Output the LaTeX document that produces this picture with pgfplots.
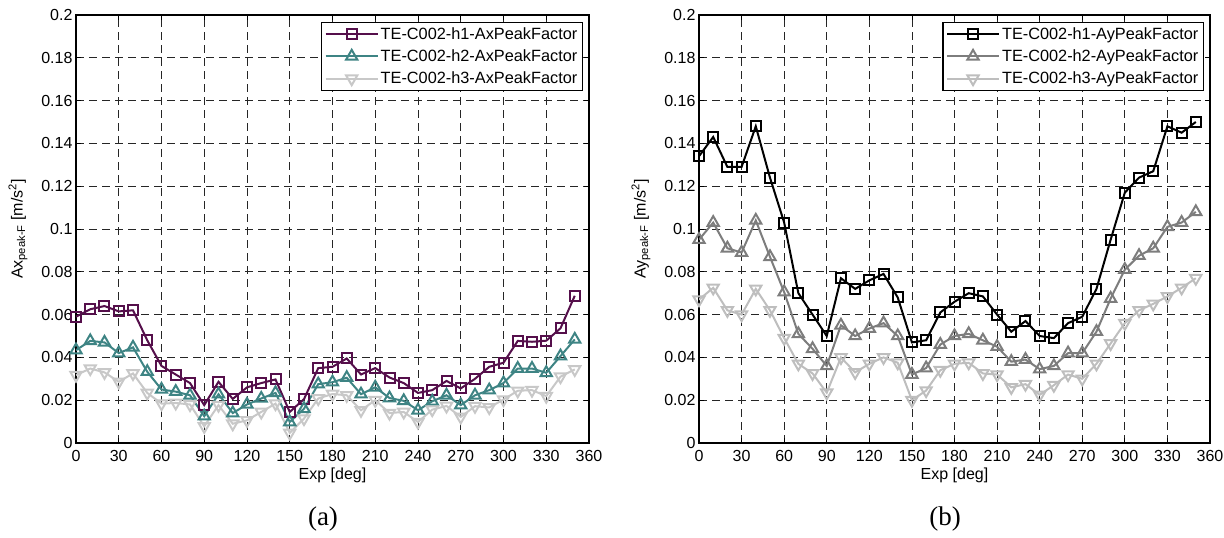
\documentclass[border=0pt]{standalone}
\usepackage{pgfplots}
\pgfplotsset{compat=1.18}
\usepackage{fontspec}
\setmainfont{Liberation Sans}
\newfontfamily\seriffont{Liberation Serif}
\definecolor{hpurple}{RGB}{85,15,75}
\definecolor{hteal}{RGB}{62,132,132}
\definecolor{hlgray}{RGB}{200,200,200}
\definecolor{hgray}{RGB}{125,125,125}
\definecolor{hlgrayb}{RGB}{190,190,190}

\pgfplotstableread{
x h1 h2 h3
0 0.059 0.0434 0.0317
10 0.0625 0.0477 0.0348
20 0.064 0.047 0.033
30 0.0615 0.042 0.0286
40 0.062 0.0447 0.0325
50 0.048 0.0333 0.0234
60 0.036 0.025 0.0184
70 0.032 0.024 0.0187
80 0.028 0.0223 0.018
90 0.0177 0.0125 0.0078
100 0.0286 0.0228 0.0177
110 0.0206 0.014 0.009
120 0.026 0.018 0.0106
130 0.028 0.0208 0.0145
140 0.0297 0.0234 0.0184
150 0.0145 0.0098 0.0047
160 0.0205 0.016 0.0114
170 0.035 0.0275 0.0208
180 0.0356 0.0284 0.0229
190 0.0395 0.0305 0.0223
200 0.032 0.0228 0.0153
210 0.035 0.026 0.020
220 0.0306 0.021 0.014
230 0.028 0.0197 0.0145
240 0.0234 0.0153 0.0098
250 0.0247 0.0195 0.0156
260 0.029 0.0223 0.0173
270 0.0255 0.0177 0.0122
280 0.030 0.0223 0.0172
290 0.0356 0.0247 0.0166
300 0.0375 0.028 0.0203
310 0.0477 0.0348 0.0244
320 0.0473 0.0348 0.0247
330 0.0478 0.0328 0.0219
340 0.0536 0.0406 0.031
350 0.0688 0.0484 0.0344
}\axdata

\pgfplotstableread{
x h1 h2 h3
0 0.134 0.095 0.067
10 0.143 0.103 0.0725
20 0.129 0.091 0.062
30 0.129 0.089 0.060
40 0.148 0.104 0.072
50 0.124 0.087 0.062
60 0.103 0.0705 0.049
70 0.070 0.051 0.037
80 0.060 0.044 0.0325
90 0.050 0.036 0.0235
100 0.077 0.055 0.040
110 0.072 0.050 0.033
120 0.076 0.0535 0.037
130 0.079 0.056 0.040
140 0.068 0.050 0.0375
150 0.047 0.032 0.020
160 0.048 0.035 0.0245
170 0.061 0.046 0.034
180 0.066 0.050 0.037
190 0.070 0.051 0.0375
200 0.0685 0.048 0.0325
210 0.060 0.045 0.032
220 0.052 0.038 0.026
230 0.057 0.039 0.0275
240 0.050 0.0345 0.0225
250 0.049 0.036 0.027
260 0.056 0.042 0.032
270 0.059 0.042 0.030
280 0.072 0.052 0.037
290 0.095 0.0675 0.0465
300 0.117 0.081 0.056
310 0.124 0.0875 0.062
320 0.127 0.091 0.065
330 0.148 0.101 0.0685
340 0.145 0.103 0.0725
350 0.150 0.108 0.077
}\aydata

\pgfplotsset{
  legend image code/.code={\draw[mark repeat=2,mark phase=2,#1] plot coordinates {(0pt,0pt) (26pt,0pt) (52pt,0pt)};},
  myax/.style={
    scale only axis, width=513pt, height=428pt,
    xmin=0, xmax=360, ymin=0, ymax=0.2,
    xtick={0,30,60,90,120,150,180,210,240,270,300,330,360},
    xticklabels={0,30,60,90,120,150,180,210,240,270,300,330,360},
    ytick={0,0.02,0.04,0.06,0.08,0.1,0.12,0.14,0.16,0.18,0.2},
    yticklabels={0,0.02,0.04,0.06,0.08,0.1,0.12,0.14,0.16,0.18,0.2},
    tick align=inside, major tick length=5pt,
    tick style={black, line width=0.8pt},
    axis line style={black, line width=1.1pt},
    grid=major,
    grid style={black!85, line width=0.8pt, dash pattern=on 8pt off 5pt},
    tick label style={font=\fontsize{16}{18}\selectfont},
    xticklabel style={yshift=-4pt},
    label style={font=\fontsize{16}{18}\selectfont},
    xlabel={Exp [deg]},
    xlabel style={yshift=1pt},
    ylabel style={yshift=7pt},
    legend style={at={(rel axis cs:0.988,0.984)}, anchor=north east,
      font=\fontsize{16.3}{18}\selectfont, draw=black, line width=1.1pt,
      inner xsep=3pt, inner ysep=3pt, row sep=5pt,
      nodes={inner sep=2pt}},
    legend cell align=left,
    every axis plot/.append style={line width=2pt},
  },
  s1/.style={mark=square, mark size=5pt, mark options={solid, fill=none}},
  s2/.style={mark=triangle, mark size=6.5pt, mark options={solid, fill=none}},
  s3/.style={mark=triangle, mark size=6.5pt, mark options={solid, fill=none, rotate=180}},
}

\begin{document}
\begin{tikzpicture}[x=1pt,y=1pt]
\useasboundingbox (0,0) rectangle (1224,538);
\begin{axis}[myax, at={(76pt,95pt)}, anchor=south west,
  ylabel={Ax\textsubscript{peak-F} [m/s\textsuperscript{2}]}]
\addplot[color=hpurple, s1] table[x=x, y=h1] {\axdata};
\addlegendentry{TE-C002-h1-AxPeakFactor}
\addplot[color=hteal, s2] table[x=x, y=h2] {\axdata};
\addlegendentry{TE-C002-h2-AxPeakFactor}
\addplot[color=hlgray, s3] table[x=x, y=h3] {\axdata};
\addlegendentry{TE-C002-h3-AxPeakFactor}
\end{axis}
\begin{axis}[myax, width=511pt, at={(699pt,95pt)}, anchor=south west,
  ylabel={Ay\textsubscript{peak-F} [m/s\textsuperscript{2}]}]
\addplot[color=black, s1] table[x=x, y=h1] {\aydata};
\addlegendentry{TE-C002-h1-AyPeakFactor}
\addplot[color=hgray, s2] table[x=x, y=h2] {\aydata};
\addlegendentry{TE-C002-h2-AyPeakFactor}
\addplot[color=hlgrayb, s3] table[x=x, y=h3] {\aydata};
\addlegendentry{TE-C002-h3-AyPeakFactor}
\end{axis}
\node[font=\seriffont\fontsize{27}{30}\selectfont] at (323,19) {(a)};
\node[font=\seriffont\fontsize{27}{30}\selectfont] at (945,19) {(b)};
\end{tikzpicture}
\end{document}
